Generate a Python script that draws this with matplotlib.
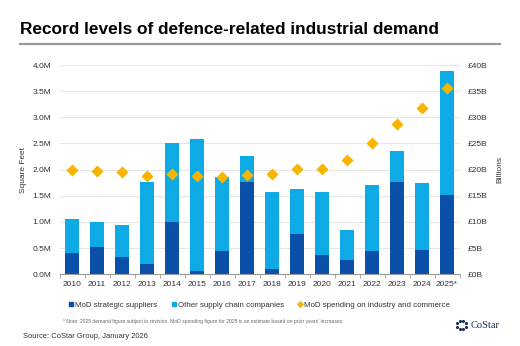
import numpy as np
import matplotlib
matplotlib.use('Agg')
import matplotlib.pyplot as plt
from matplotlib.lines import Line2D

plt.rcParams['font.family'] = ['Liberation Sans', 'DejaVu Sans']

years = ['2010', '2011', '2012', '2013', '2014', '2015', '2016', '2017',
         '2018', '2019', '2020', '2021', '2022', '2023', '2024', '2025*']
# demand in million sq ft
strategic = [0.41, 0.52, 0.34, 0.20, 0.99, 0.07, 0.45, 1.76,
             0.10, 0.77, 0.37, 0.27, 0.45, 1.77, 0.46, 1.52]
total = [1.06, 1.00, 0.94, 1.76, 2.50, 2.58, 1.86, 2.26,
         1.57, 1.63, 1.57, 0.84, 1.70, 2.35, 1.75, 3.88]
other = [t - s for t, s in zip(total, strategic)]
# MoD spending, GBP billions
spending = [20.0, 19.8, 19.5, 18.8, 19.1, 18.7, 18.5, 18.9,
            19.2, 20.2, 20.2, 21.8, 25.1, 28.8, 31.7, 35.6]

DARK = '#0b50a8'
LIGHT = '#0eaae6'
GOLD = '#f7b500'
TXT = '#333333'

fig = plt.figure(figsize=(5.2, 3.46), dpi=100)
fig.patch.set_facecolor('white')

fig.text(20 / 520, 1 - 30 / 346, 'Record levels of defence-related industrial demand',
         fontsize=12.4, fontweight='bold', va='center', ha='left', color='black')
fig.add_artist(Line2D([20 / 520, 500 / 520], [1 - 44 / 346] * 2, color='#999999', lw=1.6))

ax = fig.add_axes([59.5 / 520, 1 - 274.3 / 346, 400 / 520, 209.3 / 346])
x = np.arange(len(years))
ax.bar(x, strategic, width=0.57, color=DARK, zorder=2)
ax.bar(x, other, bottom=strategic, width=0.57, color=LIGHT, zorder=2)
ax.set_xlim(-0.5, len(years) - 0.5)
ax.set_ylim(0, 4.0)
ax.set_yticks(np.arange(0, 4.01, 0.5))
ax.set_yticklabels(['%.1fM' % v for v in np.arange(0, 4.01, 0.5)])
ax.set_xticks(x)
ax.set_xticklabels(years)
ax.set_xticks(np.arange(-0.5, len(years), 1), minor=True)
ax.tick_params(axis='x', which='major', length=0, labelsize=6, colors=TXT, pad=5)
ax.tick_params(axis='x', which='minor', length=3, color='#999999', direction='out')
ax.tick_params(axis='y', length=0, labelsize=6, colors=TXT, pad=6)
ax.grid(axis='y', color='#e6e6e6', lw=0.8, zorder=0)
for side in ['top', 'right', 'left']:
    ax.spines[side].set_visible(False)
ax.spines['bottom'].set_color('#999999')
ax.spines['bottom'].set_linewidth(0.8)
ax.set_ylabel('Square Feet', fontsize=6, color=TXT, labelpad=4)

ax2 = ax.twinx()
ax2.scatter(x, spending, marker='D', s=38, color=GOLD, zorder=3, linewidths=0)
ax2.set_ylim(0, 40)
ax2.set_yticks(np.arange(0, 41, 5))
ax2.set_yticklabels(['£%dB' % v for v in range(0, 41, 5)])
ax2.tick_params(axis='y', length=0, labelsize=6, colors=TXT, pad=6)
for side in ['top', 'right', 'left', 'bottom']:
    ax2.spines[side].set_visible(False)
ax2.set_ylabel('Billions', fontsize=6, color=TXT, labelpad=6)

handles = [
    Line2D([], [], marker='s', ls='', color=DARK, markersize=3),
    Line2D([], [], marker='s', ls='', color=LIGHT, markersize=3),
    Line2D([], [], marker='D', ls='', color=GOLD, markersize=2.8),
]
fig.legend(handles, ['MoD strategic suppliers', 'Other supply chain companies',
                     'MoD spending on industry and commerce'],
           loc='center', bbox_to_anchor=(259 / 520, 1 - 305 / 346), ncol=3,
           frameon=False, fontsize=5.7, handletextpad=0.1, columnspacing=1.7,
           handlelength=0.8, labelcolor=TXT)

fig.text(63 / 520, 1 - 322 / 346,
         '* Note: 2025 demand figure subject to revision. MoD spending figure for 2025 is an '
         'estimate based on prior years\' increases',
         fontsize=3.6, color='#666666', va='center', ha='left')
fig.text(23 / 520, 1 - 336 / 346, 'Source: CoStar Group, January 2026',
         fontsize=5.4, color=TXT, va='center', ha='left')

# CoStar logo: ring of dots plus wordmark
lx, ly, r = 461.5, 325, 4.5
ang = np.linspace(0, 2 * np.pi, 8, endpoint=False) + np.pi / 8
logo = fig.add_axes([0, 0, 1, 1], facecolor='none')
logo.set_xlim(0, 520)
logo.set_ylim(346, 0)
logo.axis('off')
logo.scatter(lx + r * np.cos(ang), ly + r * np.sin(ang), s=5, color='#1a2f5a', linewidths=0)
logo.text(471, 325, 'CoStar', family='Liberation Serif', fontsize=7.5,
          color='#1a2f5a', va='center', ha='left')

fig.savefig('out.png', dpi=100)
